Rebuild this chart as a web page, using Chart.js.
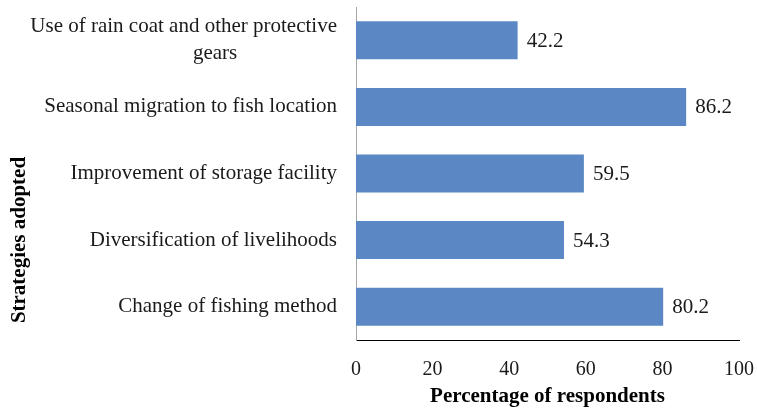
<!DOCTYPE html>
<html>
<head>
<meta charset="utf-8">
<script src="https://cdn.jsdelivr.net/npm/chart.js@4/dist/chart.umd.min.js"></script>
<style>
  html, body { margin: 0; padding: 0; background: #fff; }
  #wrap { width: 757px; height: 410px; }
</style>
</head>
<body>
<div id="wrap"><canvas id="grafica"></canvas></div>
<script>
const estrategias = [
  ["Use of rain coat and other protective", "gears" + "\u0020".repeat(19)],
  "Seasonal migration to fish location",
  "Improvement of storage facility",
  "Diversification of livelihoods",
  "Change of fishing method"
];
const porcentajes = [42.2, 86.2, 59.5, 54.3, 80.2];
const marcasX = [0, 20, 40, 60, 80, 100];
const tituloY = "Strategies adopted";

const fuente = "'Liberation Serif', 'Times New Roman', serif";

const etiquetasValor = {
  id: "etiquetasValor",
  afterDatasetsDraw(chart) {
    const ctx = chart.ctx;
    const meta = chart.getDatasetMeta(0);
    ctx.save();
    ctx.font = "21px " + fuente;
    ctx.fillStyle = "#1a1a1a";
    ctx.textAlign = "left";
    ctx.textBaseline = "middle";
    meta.data.forEach((barra, i) => {
      ctx.fillText(porcentajes[i].toFixed(1), barra.x + 9, barra.y + 1);
    });
    // titulo del eje y, algo mas abajo que el centro como en el original
    ctx.font = "bold 21px " + fuente;
    ctx.fillStyle = "#000";
    ctx.textAlign = "center";
    ctx.translate(20, 240);
    ctx.rotate(-Math.PI / 2);
    ctx.fillText(tituloY, 0, 0);
    ctx.restore();
  }
};

new Chart(document.getElementById("grafica"), {
  type: "bar",
  data: {
    labels: estrategias,
    datasets: [{
      data: porcentajes,
      backgroundColor: "#5b88c5",
      borderWidth: 0,
      categoryPercentage: 1,
      barPercentage: 0.57
    }]
  },
  options: {
    indexAxis: "y",
    responsive: true,
    maintainAspectRatio: false,
    animation: false,
    layout: { padding: { top: 7, right: 18, left: 0, bottom: 0 } },
    plugins: { legend: { display: false }, tooltip: { enabled: false } },
    scales: {
      x: {
        min: 0,
        max: 100,
        afterBuildTicks: s => { s.ticks = marcasX.map(v => ({ value: v })); },
        grid: { display: false, drawTicks: false },
        border: { display: true, color: "#000", width: 1 },
        ticks: {
          color: "#1a1a1a",
          font: { family: fuente, size: 20 },
          padding: 18,
          maxRotation: 0
        },
        title: {
          display: true,
          text: "Percentage of respondents",
          color: "#000",
          font: { family: fuente, size: 21, weight: "bold" },
          padding: { top: 8, bottom: 1 }
        },
        afterFit: s => { s.height = 70; s.paddingLeft = 0; s.paddingRight = 0; }
      },
      y: {
        grid: { display: false, drawTicks: false },
        border: { display: true, color: "#a6a6a6", width: 1 },
        ticks: {
          color: "#1a1a1a",
          font: { family: fuente, size: 21, lineHeight: 1.28 },
          padding: 19,
          autoSkip: false
        },
        title: { display: false },
        afterFit: s => { s.width = 356; s.paddingTop = 0; s.paddingBottom = 0; }
      }
    }
  },
  plugins: [etiquetasValor]
});
</script>
</body>
</html>
